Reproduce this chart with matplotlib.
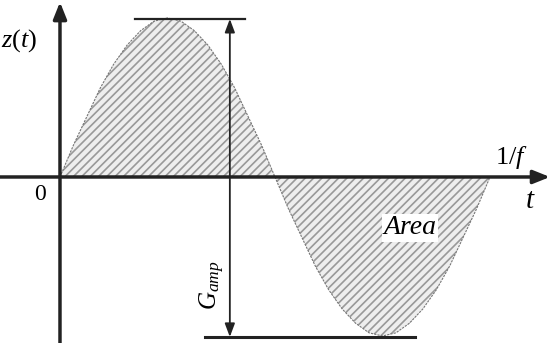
import matplotlib.pyplot as plt
import numpy as np

# curve samples (t in periods, z in amplitudes)
t_vals = [0.0, 0.03125, 0.0625, 0.09375, 0.125, 0.15625, 0.1875, 0.21875, 0.25,
          0.28125, 0.3125, 0.34375, 0.375, 0.40625, 0.4375, 0.46875, 0.5,
          0.53125, 0.5625, 0.59375, 0.625, 0.65625, 0.6875, 0.71875, 0.75,
          0.78125, 0.8125, 0.84375, 0.875, 0.90625, 0.9375, 0.96875, 1.0]
z_vals = [0.0, 0.2, 0.38, 0.56, 0.71, 0.83, 0.92, 0.98, 1.0,
          0.98, 0.92, 0.83, 0.71, 0.56, 0.38, 0.2, 0.0,
          -0.2, -0.38, -0.56, -0.71, -0.83, -0.92, -0.98, -1.0,
          -0.98, -0.92, -0.83, -0.71, -0.56, -0.38, -0.2, 0.0]

top_line = [0.174, 0.43]     # t extent of the peak marker
bottom_line = [0.337, 0.826]  # t extent of the trough marker
amp_x = 0.395                 # t of the double arrow

plt.rcParams["mathtext.fontset"] = "custom"
plt.rcParams["mathtext.rm"] = "Liberation Serif"
plt.rcParams["mathtext.it"] = "Liberation Serif:italic"
plt.rcParams["hatch.linewidth"] = 1.2
plt.rcParams["hatch.color"] = "#999999"

fig = plt.figure(figsize=(5.5, 3.43), dpi=100)
ax = fig.add_axes([0, 0, 1, 1])
ax.set_xlim(-0.1395, 1.1395)
ax.set_ylim(-1.044, 1.113)
ax.axis("off")

# hatched area
ax.fill_between(t_vals, z_vals, 0, facecolor="#eeeeee", edgecolor="#999999",
                hatch="////", linewidth=0)
ax.plot(t_vals, z_vals, color="#777777", lw=0.8, ls=(0, (2, 1)))

# axes with arrows
arr = dict(arrowstyle="-|>,head_length=1.0,head_width=0.4", color="#222222", lw=2.5,
           shrinkA=0, shrinkB=0)
ax.annotate("", xy=(1.1395, 0), xytext=(-0.1395, 0), arrowprops=arr)
ax.annotate("", xy=(0, 1.1), xytext=(0, -1.044), arrowprops=arr)

# amplitude markers
ax.plot(top_line, [0.994, 0.994], color="#222222", lw=1.6)
ax.plot(bottom_line, [-1.006, -1.006], color="#222222", lw=2.2)
arr2 = dict(arrowstyle="<|-|>,head_length=0.8,head_width=0.3", color="#222222", lw=1.3,
            shrinkA=0, shrinkB=0)
ax.annotate("", xy=(amp_x, 0.994), xytext=(amp_x, -1.006), arrowprops=arr2)

serif = "Liberation Serif"
ax.text(-0.095, 0.86, "$z(t)$", fontsize=19, ha="center", va="center", family=serif)
ax.text(-0.047, -0.11, "0", fontsize=17, ha="center", va="center", family=serif)
ax.text(1.05, 0.12, "$1/f$", fontsize=19, ha="center", va="center", family=serif)
ax.text(1.093, -0.15, "$t$", fontsize=21, ha="center", va="center", family=serif)
ax.text(0.814, -0.32, "Area", fontsize=20, style="italic", ha="center", va="center",
        family=serif, bbox=dict(facecolor="white", edgecolor="none", pad=1))
ax.text(0.355, -0.68, "$G_{amp}$", fontsize=18, rotation=90, ha="center", va="center",
        family=serif)

fig.savefig("out.png", dpi=100)
